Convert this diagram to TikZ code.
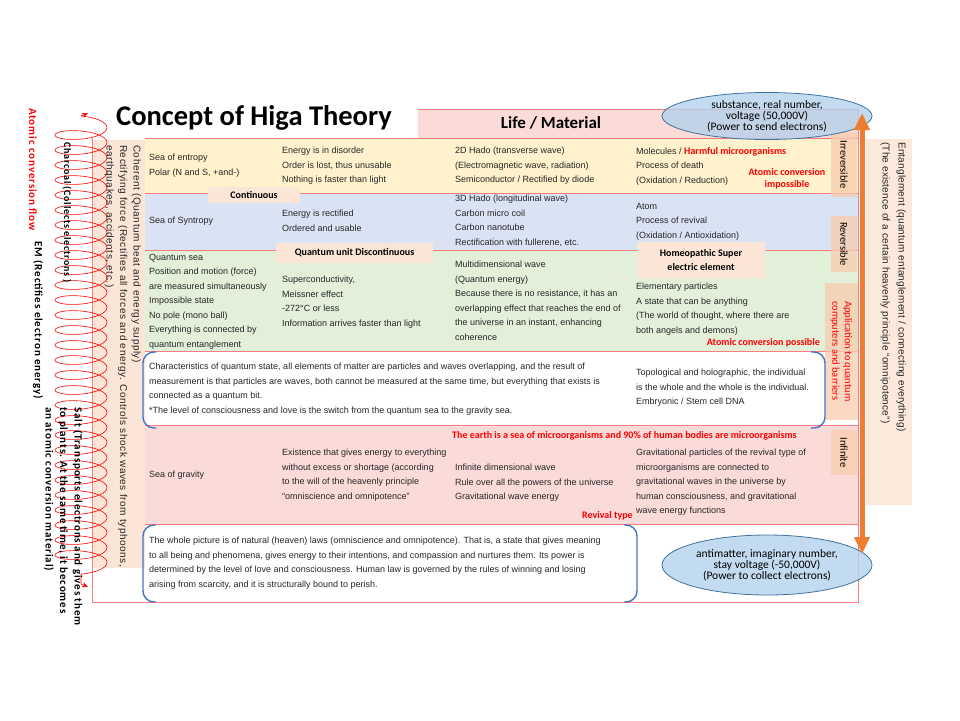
\documentclass[tikz,border=0pt]{standalone}
\usepackage{fontspec}
\setmainfont{Liberation Sans}
\newfontfamily\carlito{Carlito}
\newfontfamily\carlitowide[LetterSpace=8]{Carlito}
\newfontfamily\gothicwide[LetterSpace=5.5]{Liberation Sans}
\newfontfamily\gothicmid[LetterSpace=2]{Liberation Sans}
\usepackage{tikz}
\usetikzlibrary{shapes.geometric,arrows.meta,decorations.pathmorphing}
\usepackage{xcolor}
\definecolor{Cornsilk}{HTML}{FFF2CC}
\definecolor{Lavender}{HTML}{DAE3F3}
\definecolor{Honeydew}{HTML}{E2F0D9}
\definecolor{MistyRose}{HTML}{FADBD8}
\definecolor{Linen}{HTML}{FBE5D6}
\definecolor{Apricot}{HTML}{F8CBAD}
\definecolor{Salmon}{HTML}{FF7C80}
\definecolor{Scarlet}{HTML}{FF0000}
\definecolor{Carrot}{HTML}{ED7D31}
\definecolor{SkyMist}{HTML}{B4D2EC}
\definecolor{SteelBlue}{HTML}{41719C}
\definecolor{Cobalt}{HTML}{4472C4}
\definecolor{Ink}{HTML}{262626}

\tikzset{
  cell/.style={anchor=north west, align=left, inner sep=0pt, text=Ink,
    font=\fontsize{9}{14.5}\selectfont},
  headbox/.style={fill=Linen, inner sep=0pt, font=\carlito\bfseries\fontsize{10}{13.5}\selectfont},
  redtag/.style={inner sep=0pt, text=Scarlet, font=\carlito\bfseries\fontsize{10}{11.5}\selectfont},
  sidebox/.style={rotate=-90, fill=Apricot, fill opacity=0.75, text opacity=1, inner sep=0pt,
    font=\carlito\fontsize{10.5}{12.5}\selectfont},
  sidetext/.style={rotate=-90, anchor=north west, align=left, inner sep=0pt, text=Ink},
  flowtag/.style={rotate=-90, anchor=west, inner sep=0pt, font=\carlitowide\bfseries\fontsize{11}{14.5}\selectfont},
  volt/.style={ellipse, draw=SteelBlue, line width=0.8pt, fill=SkyMist, fill opacity=0.8,
    text opacity=1, align=center, inner sep=0pt, font=\carlito\fontsize{11.5}{11}\selectfont},
  bracket/.style={draw=Cobalt, line width=1.4pt, rounded corners=11pt},
  rowline/.style={draw=Salmon, line width=0.6pt}
}

\begin{document}
\begin{tikzpicture}[x=1pt,y=-1pt]
    \useasboundingbox (0,0) rectangle (960,720);

    \fill[Linen] (93,140) rectangle (145,568);
    \fill[Cornsilk] (145,138) rectangle (858,193);
    \fill[Lavender] (145,193) rectangle (858,250);
    \fill[Honeydew] (145,250) rectangle (858,351);
    \fill[MistyRose] (145,425) rectangle (858,524);
    \fill[MistyRose] (418,109) rectangle (858,138);
    \foreach \y in {138,193,250,351,425,524}
        \draw[rowline] (145,\y) -- (858,\y);
    \draw[rowline] (92,109) rectangle (858,602);

    \fill[Linen!85] (866,139) rectangle (912,505);
    \node[sidetext, font=\gothicmid\fontsize{10}{16}\selectfont] (tangle) at (906,142)
        {Entanglement (quantum entanglement / connecting everything)\\(The existence of a certain heavenly principle “omnipotence”)};

    \node[sidebox, minimum width=65, minimum height=26] (irrev) at (844,164.5) {Irreversible};
    \node[sidebox, minimum width=56, minimum height=26] (rev) at (844,244) {Reversible};
    \node[sidebox, minimum width=137, minimum height=33, text=Scarlet, align=left] (quantApp) at (841.5,351.5)
        {Application to quantum\\computers and barriers};
    \node[sidebox, minimum width=45, minimum height=26] (infin) at (844,452.5) {Infinite};

    \node[fill=white, minimum width=328, minimum height=40, inner sep=0pt,
        font=\carlito\bfseries\fontsize{28.5}{32}\selectfont] (title) at (254,118) {Concept of Higa Theory};
    \node[font=\carlito\bfseries\fontsize{17}{20}\selectfont] (life) at (551,123) {Life / Material};

    \node[headbox, minimum width=92, minimum height=16] (contin) at (254,195) {Continuous};
    \node[headbox, minimum width=157, minimum height=20] (quantUnit) at (354.5,252.5) {Quantum unit Discontinuous};
    \node[headbox, minimum width=128, minimum height=36, align=center] (homeo) at (701,260)
        {Homeopathic Super\\electric element};

    \node[cell] (entropy) at (149,154) {Sea of entropy\\Polar (N and S, +and-)};
    \node[cell] (disorder) at (282,147) {Energy is in disorder\\Order is lost, thus unusable\\Nothing is faster than light};
    \node[cell] (hadoTwo) at (455,147) {2D Hado (transverse wave)\\(Electromagnetic wave, radiation)\\Semiconductor / Rectified by diode};
    \node[cell] (molec) at (636,147) {Molecules / \textcolor{Scarlet}{\carlito\bfseries\fontsize{10}{14.5}\selectfont Harmful microorganisms}\\Process of death\\(Oxidation / Reduction)};

    \node[cell] (syntropy) at (149,217) {Sea of Syntropy};
    \node[cell] (rectified) at (282,210) {Energy is rectified\\Ordered and usable};
    \node[cell] (hadoThree) at (455,195) {3D Hado (longitudinal wave)\\Carbon micro coil\\Carbon nanotube\\Rectification with fullerene, etc.};
    \node[cell] (atom) at (636,203) {Atom\\Process of revival\\(Oxidation / Antioxidation)};

    \node[cell] (qsea) at (149,254) {Quantum sea\\Position and motion (force)\\are measured simultaneously\\Impossible state\\No pole (mono ball)\\Everything is connected by\\quantum entanglement};
    \node[cell] (supercond) at (282,276) {Superconductivity,\\Meissner effect\\-272°C or less\\Information arrives faster than light};
    \node[cell] (multiwave) at (455,261) {Multidimensional wave\\(Quantum energy)\\Because there is no resistance, it has an\\overlapping effect that reaches the end of\\the universe in an instant, enhancing\\coherence};
    \node[cell] (elem) at (636,283) {Elementary particles\\A state that can be anything\\(The world of thought, where there are\\both angels and demons)};

    \node[cell] (qstate) at (149,363) {Characteristics of quantum state, all elements of matter are particles and waves overlapping, and the result of\\measurement is that particles are waves, both cannot be measured at the same time, but everything that exists is\\connected as a quantum bit.\\*The level of consciousness and love is the switch from the quantum sea to the gravity sea.};
    \node[cell] (topo) at (636,369) {Topological and holographic, the individual\\is the whole and the whole is the individual.\\Embryonic / Stem cell DNA};

    \node[cell] (gravity) at (149,471) {Sea of gravity};
    \node[cell] (existence) at (282,449) {Existence that gives energy to everything\\without excess or shortage (according\\to the will of the heavenly principle\\“omniscience and omnipotence”};
    \node[cell] (infwave) at (455,464) {Infinite dimensional wave\\Rule over all the powers of the universe\\Gravitational wave energy};
    \node[cell] (gravpart) at (636,449) {Gravitational particles of the revival type of\\microorganisms are connected to\\gravitational waves in the universe by\\human consciousness, and gravitational\\wave energy functions};

    \node[cell] (whole) at (149,537) {The whole picture is of natural (heaven) laws (omniscience and omnipotence). That is, a state that gives meaning\\to all being and phenomena, gives energy to their intentions, and compassion and nurtures them. Its power is\\determined by the level of love and consciousness. Human law is governed by the rules of winning and losing\\arising from scarcity, and it is structurally bound to perish.};

    \node[redtag, align=center] (impossible) at (787,179) {Atomic conversion\\impossible};
    \node[redtag, anchor=east] (possible) at (820,343) {Atomic conversion possible};
    \node[redtag, anchor=west] (earth) at (452,436) {The earth is a sea of microorganisms and 90\% of human bodies are microorganisms};
    \node[redtag, anchor=west] (revival) at (582,516) {Revival type};

    \draw[bracket] (156,352) -- (143,352) -- (143,428) -- (156,428);
    \draw[bracket] (811,352) -- (825,352) -- (825,428) -- (811,428);
    \draw[bracket] (156,525) -- (143,525) -- (143,602) -- (156,602);
    \draw[bracket] (624,525) -- (637,525) -- (637,602) -- (624,602);

    \node[volt, minimum width=210, minimum height=47] (realEll) at (767,116)
        {substance, real number,\\voltage (50,000V)\\(Power to send electrons)};
    \node[volt, minimum width=210, minimum height=60] (imagEll) at (767,565)
        {antimatter, imaginary number,\\stay voltage (-50,000V)\\(Power to collect electrons)};
    \coordinate (voltTop) at (862,113);
    \coordinate (voltBot) at (862,554);
    \draw[Carrot, line width=5pt, {Triangle[width=15pt,length=17pt]}-{Triangle[width=15pt,length=17pt]}] (voltBot) -- (voltTop);

    \coordinate (flowTop) at (81,116);
    \coordinate (flowBot) at (81,584);
    \draw[Scarlet, line width=0.6pt, decorate, decoration={coil, amplitude=26pt, segment length=15pt, aspect=0.3}] (flowTop) -- (flowBot);
    \draw[Scarlet, line width=0.6pt, -{Stealth[length=6pt,width=5pt]}] (flowTop) -- ++(7,-3);
    \draw[Scarlet, line width=0.6pt, -{Stealth[length=6pt,width=5pt]}] (flowBot) -- ++(7,3);

    \node[sidetext, font=\gothicwide\fontsize{10}{13.5}\selectfont] (coherent) at (141,145) {Coherent (Quantum beat and energy supply)\\Rectifying force (Rectifies all forces and energy. Controls shock waves from typhoons,\\earthquakes, accidents, etc.)};
    \node[flowtag, text=Scarlet] (flowName) at (33,108) {Atomic conversion flow};
    \node[flowtag] (emName) at (38,241) {EM (Rectifies electron energy)};
    \node[flowtag, font=\carlitowide\bfseries\fontsize{10}{13}\selectfont] (charcoal) at (67,142) {Charcoal (Collects electrons )};
    \node[flowtag, anchor=north west, align=left] (salt) at (83,407)
        {Salt (Transports electrons and gives them\\to plants. At the same time, it becomes\\an atomic conversion material)};
\end{tikzpicture}
\end{document}
